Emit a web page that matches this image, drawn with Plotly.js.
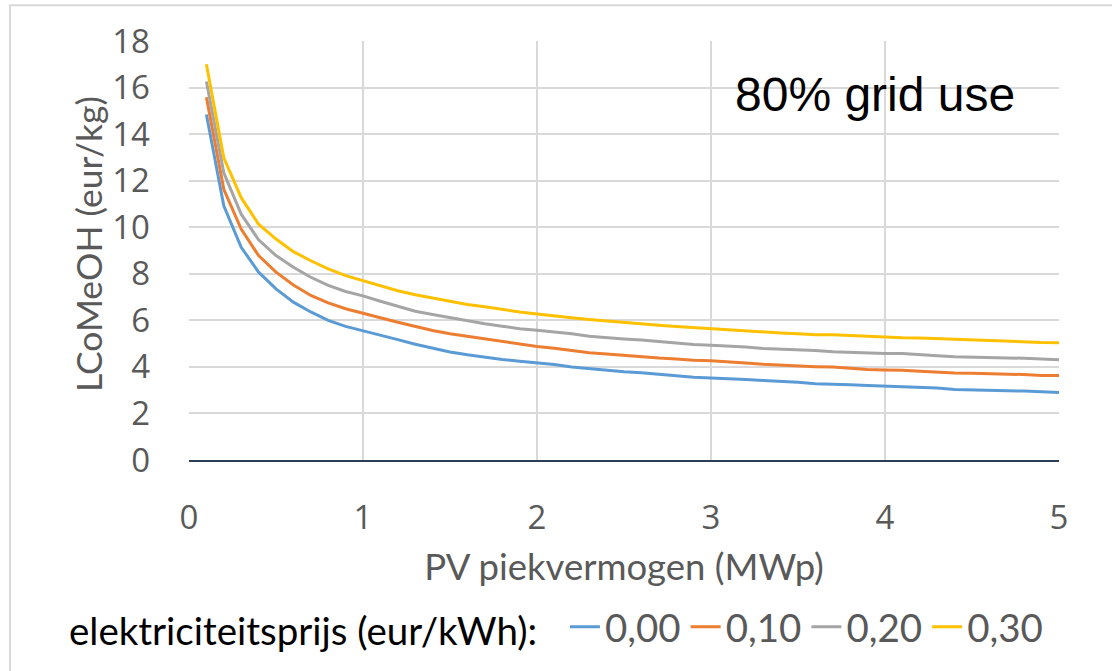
<!DOCTYPE html>
<html>
<head>
<meta charset="utf-8">
<script src="https://cdn.plot.ly/plotly-3.0.1.min.js"></script>
<style>
  html, body { margin: 0; padding: 0; background: #ffffff; }
  #chart { width: 1112px; height: 671px; }
</style>
</head>
<body>
<div id="chart"></div>
<script>
// PV peak power (MWp)
const pvPeak = [0.1,0.2,0.3,0.4,0.5,0.6,0.7,0.8,0.9,1.0,
                1.1,1.2,1.3,1.4,1.5,1.6,1.7,1.8,1.9,2.0,
                2.1,2.2,2.3,2.4,2.5,2.6,2.7,2.8,2.9,3.0,
                3.1,3.2,3.3,3.4,3.5,3.6,3.7,3.8,3.9,4.0,
                4.1,4.2,4.3,4.4,4.5,4.6,4.7,4.8,4.9,5.0];

// LCoMeOH (eur/kg) per electricity price
const price000 = [14.84,10.92,9.14,8.07,7.35,6.78,6.36,6.00,5.74,5.56,
                  5.36,5.17,4.97,4.79,4.64,4.52,4.41,4.32,4.24,4.18,
                  4.10,4.00,3.93,3.85,3.79,3.75,3.70,3.62,3.56,3.53,
                  3.52,3.46,3.42,3.39,3.34,3.28,3.24,3.23,3.20,3.17,
                  3.17,3.13,3.09,3.03,3.02,3.00,2.97,2.96,2.93,2.90];
const price010 = [15.58,11.63,9.92,8.78,8.07,7.52,7.07,6.75,6.50,6.29,
                  6.11,5.92,5.74,5.56,5.42,5.31,5.19,5.08,4.97,4.88,
                  4.80,4.70,4.61,4.55,4.49,4.42,4.38,4.34,4.28,4.26,
                  4.23,4.17,4.11,4.07,4.03,4.01,3.99,3.93,3.89,3.87,
                  3.86,3.81,3.77,3.74,3.73,3.72,3.69,3.67,3.63,3.63];
const price020 = [16.26,12.34,10.56,9.46,8.78,8.28,7.85,7.50,7.24,7.05,
                  6.82,6.62,6.39,6.25,6.11,5.99,5.85,5.75,5.64,5.57,
                  5.51,5.42,5.32,5.25,5.20,5.15,5.08,5.01,4.96,4.93,
                  4.90,4.85,4.79,4.77,4.75,4.70,4.65,4.62,4.59,4.57,
                  4.57,4.54,4.48,4.44,4.43,4.41,4.40,4.37,4.34,4.31];
const price030 = [17.00,12.98,11.27,10.13,9.49,8.95,8.56,8.21,7.92,7.70,
                  7.46,7.27,7.10,6.96,6.82,6.68,6.58,6.46,6.36,6.27,
                  6.18,6.11,6.04,5.97,5.90,5.85,5.79,5.73,5.68,5.64,
                  5.61,5.56,5.51,5.46,5.42,5.38,5.38,5.34,5.30,5.27,
                  5.25,5.24,5.21,5.17,5.15,5.13,5.10,5.08,5.05,5.04];

const seriesNames = ["0,00", "0,10", "0,20", "0,30"];
const seriesValues = [price000, price010, price020, price030];
const seriesColors = ["#5B9BD5", "#ED7D31", "#A5A5A5", "#FFC000"];

const xTicks = [0, 1, 2, 3, 4, 5];
const yTicks = [0, 2, 4, 6, 8, 10, 12, 14, 16, 18];

const traces = seriesValues.map((vals, i) => ({
  type: "scatter",
  mode: "lines",
  x: pvPeak,
  y: vals,
  name: seriesNames[i],
  line: { color: seriesColors[i], width: 3 },
  hoverinfo: "x+y+name"
}));

const L = 189, R = 1059, T = 41, B = 462, W = 1112, H = 671;
const pw = R - L, ph = B - T;
const px = v => (v - L) / pw;
const py = v => (B - v) / ph;

const layout = {
  width: W, height: H,
  margin: { l: L, r: W - R, t: T, b: H - B, pad: 0 },
  paper_bgcolor: "#ffffff",
  plot_bgcolor: "#ffffff",
  showlegend: true,
  font: { family: "Lato, 'Open Sans', sans-serif", color: "#595959" },
  xaxis: {
    range: [0, 5],
    tickvals: xTicks,
    ticktext: xTicks.map(String),
    showgrid: true, gridcolor: "#D9D9D9", gridwidth: 2,
    zeroline: false,
    showline: true, linecolor: "#2C3E55", linewidth: 2,
    ticks: "",
    ticklabelstandoff: 27,
    tickfont: { family: "'Open Sans', sans-serif", size: 33, color: "#595959" },
    title: { text: "PV piekvermogen (MWp)", font: { family: "Lato, sans-serif", size: 36.5, color: "#595959" }, standoff: 17 },
    fixedrange: true
  },
  yaxis: {
    range: [0, 18],
    tickvals: yTicks,
    ticktext: yTicks.map(String),
    showgrid: true, gridcolor: "#D9D9D9", gridwidth: 2,
    zeroline: false,
    showline: false,
    ticks: "",
    ticklabelstandoff: 38,
    tickfont: { family: "'Open Sans', sans-serif", size: 33, color: "#595959" },
    fixedrange: true
  },
  legend: {
    orientation: "h",
    x: px(67), xanchor: "left",
    y: py(630), yanchor: "middle",
    bgcolor: "rgba(0,0,0,0)",
    font: { family: "Lato, sans-serif", size: 38.5, color: "#595959" },
    title: { text: "elektriciteitsprijs (eur/kWh):&nbsp;&nbsp;", side: "left", font: { family: "Lato, sans-serif", size: 38.5, color: "#000000" } },
    itemwidth: 30,
    tracegroupgap: 0
  },
  annotations: [{
    xref: "paper", yref: "paper",
    x: px(733), y: py(95), xanchor: "left", yanchor: "middle",
    text: "80% grid use", showarrow: false,
    font: { family: "'Liberation Sans', Arial, sans-serif", size: 48, color: "#000000" }
  }, {
    xref: "paper", yref: "paper",
    x: px(88), y: py(245), xanchor: "center", yanchor: "middle",
    text: "LCoMeOH (eur/kg)", showarrow: false, textangle: -90,
    font: { family: "Lato, sans-serif", size: 35.5, color: "#595959" }
  }],
  shapes: [{
    type: "rect", xref: "paper", yref: "paper", layer: "below",
    x0: px(10), x1: px(1130), y0: py(690), y1: py(5),
    line: { color: "#D9D9D9", width: 2 }, fillcolor: "rgba(0,0,0,0)"
  }]
};

Plotly.newPlot("chart", traces, layout, { displayModeBar: false, staticPlot: true });
</script>
</body>
</html>
